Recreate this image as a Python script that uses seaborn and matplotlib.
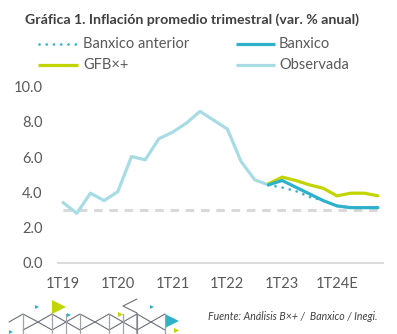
import numpy as np
import pandas as pd
import matplotlib
matplotlib.use("Agg")
import matplotlib.pyplot as plt
from matplotlib.lines import Line2D
from matplotlib.patches import Polygon
import seaborn as sns

# ---- data ----
quarters = [f"{q}T{y}" for y in ["19", "20", "21", "22", "23", "24"] for q in range(1, 5)]
observada = [3.43, 2.82, 3.96, 3.54, 4.05, 6.04, 5.85, 7.05, 7.42, 7.93, 8.6, 8.1,
             7.6, 5.76, 4.72, 4.43] + [np.nan] * 8
gfb = [np.nan] * 15 + [4.49, 4.87, 4.68, 4.43, 4.24, 3.81, 3.96, 3.96, 3.81]
banxico = [np.nan] * 15 + [4.43, 4.68, 4.30, 3.92, 3.54, 3.24, 3.14, 3.14, 3.14]
banxico_anterior = [np.nan] * 15 + [4.43, 4.28, 4.08, 3.75, 3.54, 3.24, 3.14, 3.14, 3.14]
meta = [3.0] * 24
tick_labels = ["1T19", "1T20", "1T21", "1T22", "1T23", "1T24E"]
yticks = [0, 2, 4, 6, 8, 10]

title = "Gráfica 1. Inflación promedio trimestral (var. % anual)"
source = "Fuente: Análisis B×+ /  Banxico / Inegi."

c_obs = "#a8dce5"
c_banx = "#2eb1cb"
c_gfb = "#c3d500"
c_ant = "#3bb4cd"
c_grey = "#d9d9d9"
c_text = "#595959"

sns.set_theme(style="white")
plt.rcParams["font.family"] = ["Lato", "DejaVu Sans"]

fig = plt.figure(figsize=(3.97, 3.34), dpi=100)
ax = fig.add_axes([58 / 397, 1 - 263 / 334, 325 / 397, (263 - 86.7) / 334])

x = np.arange(len(quarters))
df = pd.DataFrame({"x": x, "obs": observada, "gfb": gfb, "banx": banxico,
                   "ant": banxico_anterior, "meta": meta})

sns.lineplot(data=df, x="x", y="meta", ax=ax, color=c_grey, lw=2.2,
             linestyle=(0, (2.8, 2.2)), zorder=1)
sns.lineplot(data=df, x="x", y="obs", ax=ax, color=c_obs, lw=2.3, zorder=2)
sns.lineplot(data=df, x="x", y="gfb", ax=ax, color=c_gfb, lw=2.3, zorder=3)
sns.lineplot(data=df, x="x", y="ant", ax=ax, color=c_ant, lw=2.0,
             linestyle=(0, (0.01, 2.6)), dash_capstyle="round", zorder=3)
sns.lineplot(data=df, x="x", y="banx", ax=ax, color=c_banx, lw=2.3, zorder=4)

ax.set_xlim(-0.37, 23.37)
ax.set_ylim(0, 10)
ax.set_yticks(yticks)
ax.set_yticklabels([f"{v:.1f}" for v in yticks])
ax.set_xticks([0, 4, 8, 12, 16, 20])
ax.set_xticklabels(tick_labels)
ax.set_xlabel("")
ax.set_ylabel("")
for s in ["top", "right", "left"]:
    ax.spines[s].set_visible(False)
ax.spines["bottom"].set_color(c_grey)
ax.spines["bottom"].set_linewidth(1.3)
ax.tick_params(axis="y", length=0, pad=11, labelsize=10.5, labelcolor=c_text)
ax.tick_params(axis="x", length=0, pad=10, labelsize=10.5, labelcolor=c_text)
ax.grid(False)

# title
fig.text(25 / 397, 1 - 20 / 334, title, fontsize=10.2, fontweight="bold",
         color="#404040", ha="left", va="center")

# legend (manual)
def leg_item(x0, x1, xt, y, color, ls, lw, label):
    fy_ = 1 - y / 334
    fig.add_artist(Line2D([x0 / 397, x1 / 397], [fy_, fy_], color=color, lw=lw,
                          linestyle=ls, solid_capstyle="butt", dash_capstyle="round"))
    fig.text(xt / 397, fy_, label, fontsize=10.5, color=c_text, ha="left", va="center")

leg_item(39, 78, 83, 44, c_ant, (0, (0.01, 2.6)), 2.0, "Banxico anterior")
leg_item(236, 275, 279, 44, c_banx, "-", 2.3, "Banxico")
leg_item(38, 78, 83, 65, c_gfb, "-", 2.3, "GFB×+")
leg_item(236, 275, 279, 65, c_obs, "-", 2.3, "Observada")

# source
fig.text(208 / 397, 1 - 316 / 334, source, fontsize=7.6, style="italic",
         color="#404040", ha="left", va="center")

# decorative pattern (bottom-left)
def fx(v):
    return v / 397

def fy(v):
    return 1 - v / 334

line_c = "#6b7078"
zig_x = [9, 23, 38, 52, 66, 80, 95, 109, 123, 137, 151, 165]
zig_y = [322, 314, 322, 330, 322, 314, 322, 314, 322, 314, 322, 314]
fig.add_artist(Line2D([fx(v) for v in zig_x], [fy(v) for v in zig_y], color=line_c, lw=0.8))
zig2_y = [322, 330, 322, 314, 322, 330, 322, 330, 322, 330, 322, 330]
fig.add_artist(Line2D([fx(v) for v in zig_x[1:]], [fy(v) for v in zig2_y[1:]], color=line_c, lw=0.8))
for vx in [23, 52, 66, 80, 109, 123, 137, 165]:
    fig.add_artist(Line2D([fx(vx), fx(vx)], [fy(314), fy(334)], color="#a0a4aa", lw=0.9))
fig.add_artist(Line2D([fx(137), fx(123), fx(137), fx(137)],
                      [fy(299), fy(306), fy(313), fy(334)], color=line_c, lw=0.8))

def tri(x0, y0, w, h, color):
    fig.add_artist(Polygon([[fx(x0), fy(y0)], [fx(x0 + w), fy(y0 + h / 2)], [fx(x0), fy(y0 + h)]],
                           closed=True, color=color, lw=0))

tri(52, 300, 14, 14, "#c3d500")
tri(165, 314, 14, 14, "#2eb1cb")
for (tx, ty) in [(35, 305), (67, 313), (150, 305), (9, 330)]:
    tri(tx, ty, 4, 4, "#2eb1cb")
for (tx, ty) in [(118, 312), (174, 328)]:
    tri(tx, ty, 5, 5, "#c3d500")

fig.savefig("out.png", dpi=100)
